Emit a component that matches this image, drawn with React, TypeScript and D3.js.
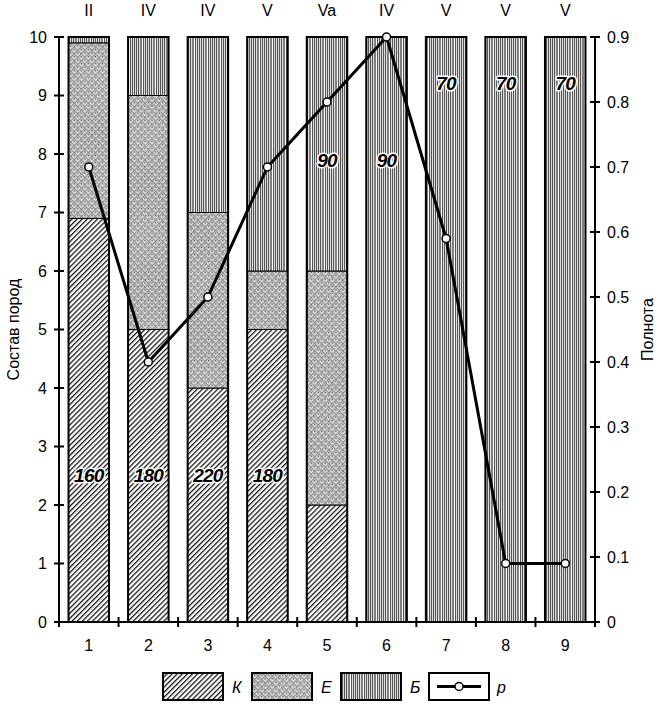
import React from 'react';
import * as d3 from 'd3';

// plot numbers
const plots = ['1', '2', '3', '4', '5', '6', '7', '8', '9'];
const bonitet = ['II', 'IV', 'IV', 'V', 'Va', 'IV', 'V', 'V', 'V'];
const pine = [6.9, 5, 4, 5, 2, 0, 0, 0, 0];      // К
const spruce = [3.0, 4, 3, 1, 4, 0, 0, 0, 0];    // Е
const birch = [0.1, 1, 3, 4, 4, 10, 10, 10, 10]; // Б
const density = [0.7, 0.4, 0.5, 0.7, 0.8, 0.9, 0.59, 0.09, 0.09]; // p
const ages = ['160', '180', '220', '180', '90', '90', '70', '70', '70'];
const ageLevel = [2.5, 2.5, 2.5, 2.5, 7.9, 7.9, 9.2, 9.2, 9.2];

const W = 658;
const H = 704;
const m = { left: 59, right: 595, top: 37, bottom: 622 };

const font = '"Liberation Sans", Arial, sans-serif';

const App: React.FC = () => {
   const x = d3.scaleBand<string>().domain(plots).range([m.left, m.right]).paddingInner(0.32).paddingOuter(0.16);
   const y = d3.scaleLinear().domain([0, 10]).range([m.bottom, m.top]);
   const y2 = d3.scaleLinear().domain([0, 0.9]).range([m.bottom, m.top]);
   const step = x.step();

   const stack = d3.stack<number>().keys(['K', 'E', 'B']).value((i, k) =>
      k === 'K' ? pine[i] : k === 'E' ? spruce[i] : birch[i]);
   const series = stack(plots.map((_, i) => i));
   const fills = ['url(#hatchK)', 'url(#hatchE)', 'url(#hatchB)'];

   const line = d3.line<number>()
      .x((_, i) => (x(plots[i]) ?? 0) + x.bandwidth() / 2)
      .y((d) => y2(d));

   const legend = [
      { x: 163, fill: 'url(#hatchK)', label: 'К' },
      { x: 252, fill: 'url(#hatchE)', label: 'Е' },
      { x: 341, fill: 'url(#hatchB)', label: 'Б' },
   ];

   return (
      <svg width={W} height={H} viewBox={`0 0 ${W} ${H}`}
         style={{ position: 'absolute', left: 0, top: 0, background: 'white' }}
         fontFamily={font}>
         <defs>
            <pattern id="hatchK" width="3.6" height="3.6" patternUnits="userSpaceOnUse" patternTransform="rotate(45)">
               <rect width="3.6" height="3.6" fill="white" />
               <line x1="0.6" y1="0" x2="0.6" y2="3.6" stroke="#111" strokeWidth="1.3" />
            </pattern>
            <pattern id="hatchE" width="5" height="5" patternUnits="userSpaceOnUse" patternTransform="rotate(45)">
               <rect width="5" height="5" fill="#d8d8d8" />
               <line x1="0" y1="0" x2="0" y2="5" stroke="#7a7a7a" strokeWidth="1.6" />
               <line x1="0" y1="0" x2="5" y2="0" stroke="#7a7a7a" strokeWidth="1.6" />
               <circle cx="2.5" cy="2.5" r="0.8" fill="#444" />
            </pattern>
            <pattern id="hatchB" width="13" height="4" patternUnits="userSpaceOnUse">
               <rect width="13" height="4" fill="white" />
               {[0, 2, 4, 6, 8].map((p) => (
                  <rect key={p} x={p} y={0} width={1.2} height={4} fill="#555" />
               ))}
               <rect x={10.5} y={0} width={1} height={4} fill="#000" />
            </pattern>
         </defs>

         {/* bars */}
         {series.map((s, si) => (
            <g key={s.key}>
               {s.map((d, i) => d[1] - d[0] > 0 && (
                  <rect key={i} x={x(plots[i])} y={y(d[1])} width={x.bandwidth()}
                     height={y(d[0]) - y(d[1])} fill={fills[si]} stroke="black" strokeWidth={1} />
               ))}
            </g>
         ))}
         {plots.map((p) => (
            <rect key={p} x={x(p)} y={y(10)} width={x.bandwidth()} height={y(0) - y(10)}
               fill="none" stroke="black" strokeWidth={2} />
         ))}

         {/* ages */}
         {ages.map((a, i) => (
            <text key={i} x={(x(plots[i]) ?? 0) + x.bandwidth() / 2} y={y(ageLevel[i])} dy="0.35em"
               textAnchor="middle" fontSize={19} fontWeight="bold" fontStyle="italic" letterSpacing={-0.8}
               stroke="white" strokeWidth={3} paintOrder="stroke" strokeLinejoin="round">{a}</text>
         ))}

         {/* bonitet classes */}
         {bonitet.map((b, i) => (
            <text key={i} x={(x(plots[i]) ?? 0) + x.bandwidth() / 2} y={10} dy="0.35em"
               textAnchor="middle" fontSize={16}>{b}</text>
         ))}

         {/* density line */}
         <path d={line(density) ?? ''} fill="none" stroke="black" strokeWidth={3} strokeLinejoin="round" />
         {density.map((d, i) => (
            <circle key={i} cx={(x(plots[i]) ?? 0) + x.bandwidth() / 2} cy={y2(d)} r={4}
               fill="white" stroke="black" strokeWidth={1.5} />
         ))}

         {/* left axis */}
         <line x1={m.left} x2={m.left} y1={m.top} y2={m.bottom} stroke="black" strokeWidth={2} />
         {y.ticks(10).map((t) => (
            <g key={t} transform={`translate(0,${y(t)})`}>
               <line x1={m.left - 5} x2={m.left + 5} stroke="black" strokeWidth={2} />
               <text x={m.left - 12} dy="0.35em" textAnchor="end" fontSize={16}>{t}</text>
            </g>
         ))}
         <text transform={`translate(13,${(m.top + m.bottom) / 2}) rotate(-90)`} dy="0.35em"
            textAnchor="middle" fontSize={16}>Состав пород</text>

         {/* right axis */}
         <line x1={m.right} x2={m.right} y1={m.top} y2={m.bottom} stroke="black" strokeWidth={2} />
         {y2.ticks(9).map((t) => (
            <g key={t} transform={`translate(0,${y2(t)})`}>
               <line x1={m.right - 5} x2={m.right + 5} stroke="black" strokeWidth={2} />
               <text x={m.right + 12} dy="0.35em" textAnchor="start" fontSize={16}>
                  {t === 0 ? '0' : d3.format('.1f')(t)}</text>
            </g>
         ))}
         <text transform={`translate(647,${(m.top + m.bottom) / 2}) rotate(-90)`} dy="0.35em"
            textAnchor="middle" fontSize={16}>Полнота</text>

         {/* bottom axis */}
         <line x1={m.left} x2={m.right} y1={m.bottom} y2={m.bottom} stroke="black" strokeWidth={2} />
         {d3.range(plots.length + 1).map((i) => (
            <line key={i} x1={m.left + i * step} x2={m.left + i * step} y1={m.bottom - 5} y2={m.bottom + 5}
               stroke="black" strokeWidth={2} />
         ))}
         {plots.map((p) => (
            <text key={p} x={(x(p) ?? 0) + x.bandwidth() / 2} y={645} dy="0.35em"
               textAnchor="middle" fontSize={16}>{p}</text>
         ))}

         {/* legend */}
         {legend.map((l) => (
            <g key={l.label}>
               <rect x={l.x} y={673} width={60} height={27} fill={l.fill} stroke="black" strokeWidth={2} />
               <text x={l.x + 69} y={687} dy="0.35em" fontSize={16} fontStyle="italic">{l.label}</text>
            </g>
         ))}
         <rect x={429} y={673} width={60} height={27} fill="white" stroke="black" strokeWidth={2} />
         <line x1={437} x2={481} y1={686.5} y2={686.5} stroke="black" strokeWidth={3} />
         <circle cx={459} cy={686.5} r={4} fill="white" stroke="black" strokeWidth={1.5} />
         <text x={497} y={687} dy="0.35em" fontSize={16} fontStyle="italic">p</text>
      </svg>
   );
};

export default App;
